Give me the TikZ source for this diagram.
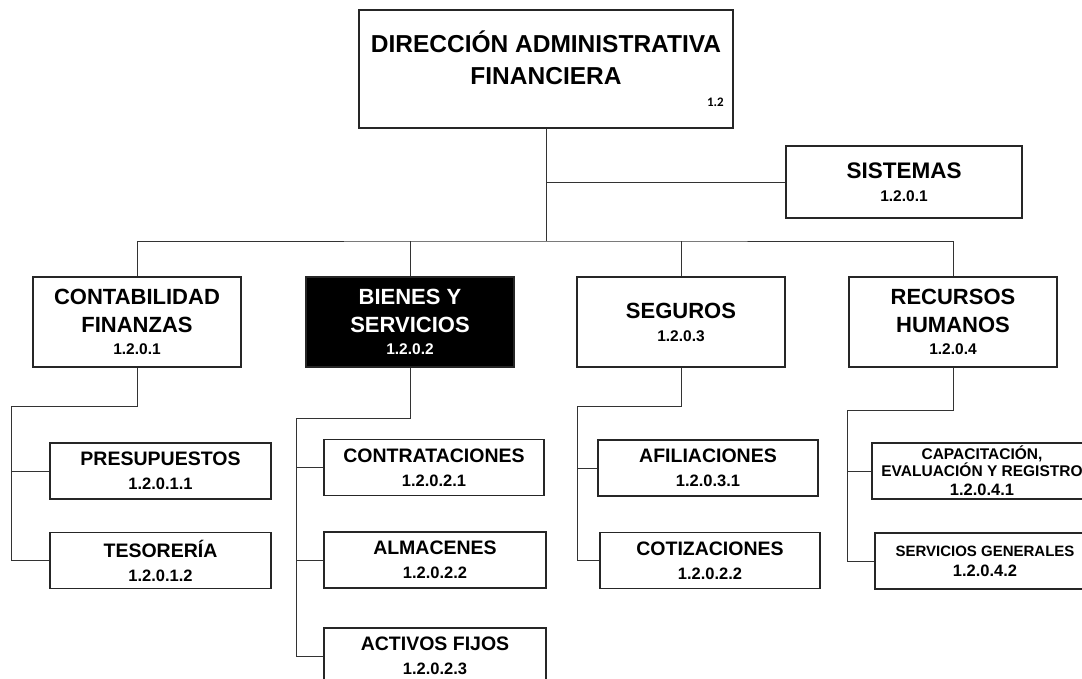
\documentclass[tikz,border=0pt]{standalone}
\usepackage{fontspec}
\setmainfont{Liberation Sans}
\newfontfamily\calib{Carlito}
\usepackage{tikz}
\usetikzlibrary{positioning}

\newcommand{\unitcode}[1]{{\fontsize{15.5}{16}\selectfont #1}}
\newcommand{\officecode}[1]{{\fontsize{16.5}{17}\selectfont #1}}

\begin{document}
\begin{tikzpicture}[x=1pt,y=-1pt]
  \tikzstyle{box}=[rectangle,draw=black!85,line width=1.1pt,fill=white,
                   align=center,inner sep=0pt,font=\bfseries]
  \tikzstyle{direction}=[box,minimum width=374pt,minimum height=118pt]
  \tikzstyle{dept}=[box,minimum width=208pt,minimum height=90pt,
                    font=\bfseries\fontsize{22}{28}\selectfont]
  \tikzstyle{black dept}=[dept,fill=black,text=white]
  \tikzstyle{office}=[box,minimum width=221pt,minimum height=56pt,
                      font=\bfseries\fontsize{19.5}{24}\selectfont]
  \tikzstyle{link}=[draw=black!80,line width=0.8pt]

  \clip (0,0) rectangle (1082,679);

  % direccion y sistemas
  \node [direction] (dir) at (546,69) {};
  \node [font=\bfseries\fontsize{24.5}{32}\selectfont,align=center] (dirt) at (546,58)
    {DIRECCIÓN ADMINISTRATIVA\\FINANCIERA};
  \node [anchor=east,font=\calib\bfseries\fontsize{13}{13}\selectfont,inner sep=0pt] (dirc) at (724,102) {1.2};
  \node [box,minimum width=236pt,minimum height=72pt,
         font=\bfseries\fontsize{22.5}{26}\selectfont] (sist) at (904,182)
    {SISTEMAS\\[-3pt]\unitcode{1.2.0.1}};

  % departamentos
  \node [dept] (conta) at (137,322) {CONTABILIDAD\\FINANZAS\\[-6pt]\unitcode{1.2.0.1}};
  \node [black dept] (bienes) at (410,322) {BIENES Y\\SERVICIOS\\[-6pt]\unitcode{1.2.0.2}};
  \node [dept] (segur) at (681,322) {SEGUROS\\[-5pt]\unitcode{1.2.0.3}};
  \node [dept] (recur) at (953,322) {RECURSOS\\HUMANOS\\[-6pt]\unitcode{1.2.0.4}};

  % oficinas
  \node [office] (presu) at (160.5,471) {PRESUPUESTOS\\[0pt]\officecode{1.2.0.1.1}};
  \node [office] (tesor) at (160.5,560.5) {TESORERÍA\\[0pt]\officecode{1.2.0.1.2}};
  \node [office,minimum width=220pt] (contr) at (434,467.5) {CONTRATACIONES\\[0pt]\officecode{1.2.0.2.1}};
  \node [office,minimum width=222pt] (almac) at (435,560) {ALMACENES\\[0pt]\officecode{1.2.0.2.2}};
  \node [office,minimum width=222pt] (activ) at (435,656) {ACTIVOS FIJOS\\[0pt]\officecode{1.2.0.2.3}};
  \node [office,minimum width=220pt] (afili) at (708,468) {AFILIACIONES\\[0pt]\officecode{1.2.0.3.1}};
  \node [office,minimum width=220pt] (cotiz) at (710,560.5) {COTIZACIONES\\[0pt]\officecode{1.2.0.2.2}};
  \node [office,minimum width=220pt,font=\bfseries\fontsize{15.5}{17}\selectfont] (capac) at (982,471)
    {CAPACITACIÓN,\\EVALUACIÓN Y REGISTRO\\[2pt]\officecode{1.2.0.4.1}};
  \node [office,minimum width=220pt,font=\bfseries\fontsize{15}{19}\selectfont] (servi) at (985,561)
    {SERVICIOS GENERALES\\[1pt]\officecode{1.2.0.4.2}};

  \coordinate (bus) at (546,241);
  \coordinate (c1) at (11,406);
  \coordinate (c2) at (296,418);
  \coordinate (c3) at (577,406);
  \coordinate (c4) at (847,410);

  \draw [link] (dir.south) -- (bus);
  \draw [link] (dir.south |- sist.west) -- (sist.west);
  \draw [link] (conta.north) |- (bus) -| (recur.north);
  \draw [link] (bienes.north) -- (bienes.north |- bus);
  \draw [link] (segur.north) -- (segur.north |- bus);

  \draw [link] (conta.south) |- (c1) |- (tesor.west);
  \draw [link] (c1 |- presu.west) -- (presu.west);
  \draw [link] (bienes.south) |- (c2) |- (activ.west);
  \draw [link] (c2 |- contr.west) -- (contr.west);
  \draw [link] (c2 |- almac.west) -- (almac.west);
  \draw [link] (segur.south) |- (c3) |- (cotiz.west);
  \draw [link] (c3 |- afili.west) -- (afili.west);
  \draw [link] (recur.south) |- (c4) |- (servi.west);
  \draw [link] (c4 |- capac.west) -- (capac.west);
\end{tikzpicture}
\end{document}
